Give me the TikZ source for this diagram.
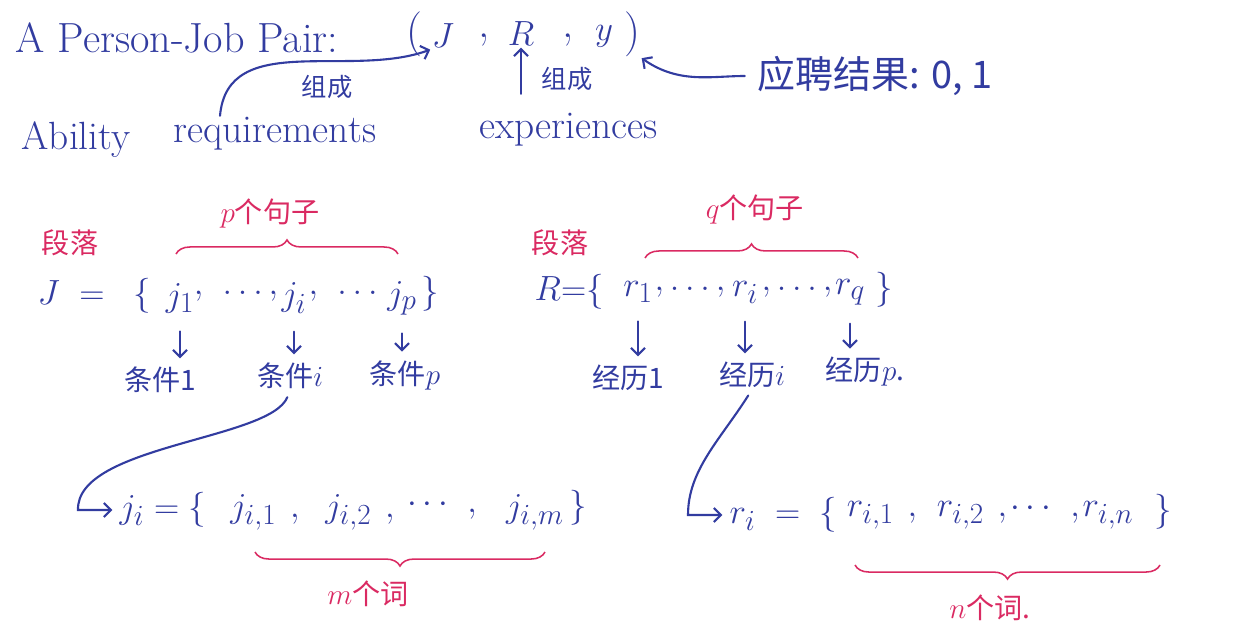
\documentclass[tikz,border=0pt]{standalone}
\usepackage{amsmath}
\usepackage{fontspec}
\usetikzlibrary{arrows.meta, positioning, decorations.pathreplacing}
\newfontfamily\cjk{Noto Sans CJK SC}
\definecolor{ink}{RGB}{50,60,160}
\definecolor{pen}{RGB}{218,42,98}
\tikzstyle{every node}=[text=ink, inner sep=1pt]
\tikzstyle{title}=[font=\fontsize{30}{34}\selectfont]
\tikzstyle{big}=[font=\fontsize{32}{36}\selectfont]
\tikzstyle{mid}=[font=\fontsize{28}{32}\selectfont]
\tikzstyle{zh}=[font=\fontsize{20}{24}\selectfont\cjk]
\tikzstyle{zhbig}=[font=\fontsize{27}{32}\selectfont\cjk]
\tikzstyle{zhsmall}=[font=\fontsize{18}{22}\selectfont\cjk]
\tikzstyle{note}=[zh, text=pen]
\tikzstyle{link}=[draw=ink, line width=1.5pt, line cap=round, -{Straight Barb[length=5pt, width=10pt]}]
\tikzstyle{down}=[link, shorten <=12pt, shorten >=5pt]
\tikzstyle{brc}=[draw=pen, line width=1.1pt, decorate, decoration={brace, amplitude=10pt}]

\begin{document}
\begin{tikzpicture}[x=0.025cm, y=-0.025cm]
    \useasboundingbox (0,0) rectangle (1240,639);

    % the pair
    \node[title, anchor=west] (pair) at (14,38) {A Person-Job Pair:};
    \node[big] (lp) at (414,34) {(};
    \node[big] (J) at (443,36) {$J$};
    \node[big] (c1) at (484,40) {,};
    \node[big] (R) at (521,34) {$R$};
    \node[big] (c2) at (568,40) {,};
    \node[big] (y) at (604,36) {$y$};
    \node[big] (rp) at (632,34) {)};

    \node[mid, anchor=west] (ability) at (20,140) {Ability};
    \node[mid, anchor=west] (req) at (172,134) {requirements};
    \node[mid, anchor=west] (exp) at (478,130) {experiences};
    \node[zhbig, anchor=west] (result) at (756,76) {应聘结果: 0, 1};

    \draw[link] ([xshift=1.2cm]req.north west) to[out=85, in=200] (J.south west);
    \node[zhsmall] (form1) at (327,87) {组成};
    \draw[link, shorten <=0.45cm] (exp.north -| R) -- (R.south);
    \node[zhsmall] (form2) at (567,79) {组成};
    \draw[link, shorten <=8pt] (result.west) to[out=180, in=-35] (rp.south east);

    % paragraph J
    \node[note] (para1) at (70,243) {段落};
    \node[big, anchor=west] (Jeq) at (36,296) {$J\;=\;\;\{$};
    \node[big] (j1) at (180,298) {$j_1$};
    \node[big] (Jd1) at (236,296) {$,\ \dots,$};
    \node[big] (ji) at (294,298) {$j_i$};
    \node[big] (Jd2) at (346,296) {$,\ \dots$};
    \node[big] (jp) at (402,298) {$j_p$};
    \node[big] (Jr) at (430,294) {$\}$};
    \draw[brc] (176,254) -- (398,254);
    \node[note] (psent) at (270,214) {$p$个句子};

    \node[zh] (cond1) at (160,380) {条件1};
    \node[zh] (condi) at (290,376) {条件$i$};
    \node[zh] (condp) at (405,375) {条件$p$};
    \draw[down] (j1.south) -- (j1.south |- cond1.north);
    \draw[down] (ji.south) -- (ji.south |- condi.north);
    \draw[down] (jp.south) -- (jp.south |- condp.north);

    % paragraph R
    \node[note] (para2) at (560,243) {段落};
    \node[big, anchor=west] (Req) at (533,292) {$R{=}\{$};
    \node[big] (r1) at (638,292) {$r_1$};
    \node[big] (Rd1) at (690,292) {$,\dots,$};
    \node[big] (ri) at (745,292) {$r_i$};
    \node[big] (Rd2) at (797,292) {$,\dots,$};
    \node[big] (rq) at (850,292) {$r_q$};
    \node[big] (Rr) at (884,290) {$\}$};
    \draw[brc] (645,258) -- (858,258);
    \node[note] (qsent) at (755,210) {$q$个句子};

    \node[zh] (exp1) at (628,378) {经历1};
    \node[zh] (expi) at (752,375) {经历$i$};
    \node[zh] (expp) at (865,372) {经历$p$.};
    \draw[down] (r1.south) -- (r1.south |- exp1.north);
    \draw[down] (ri.south) -- (ri.south |- expi.north);
    \draw[down] (rq.south) -- (rq.south |- expp.north);

    % sentence j_i
    \node[big, anchor=west] (jieq) at (118,510) {$j_i = \{$};
    \node[big] (jw1) at (265,512) {$j_{i,1}\ ,$};
    \node[big] (jw2) at (360,512) {$j_{i,2}\ ,$};
    \node[big] (jwd) at (442,508) {$\cdots\ ,$};
    \node[big] (jwm) at (535,512) {$j_{i,m}$};
    \node[big] (jwr) at (578,508) {$\}$};
    \draw[brc] (545,552) -- (255,552);
    \node[note] (mword) at (368,594) {$m$个词};
    \draw[link, shorten <=5pt, shorten >=4pt] (condi.south) .. controls (270,440) and (76,445) .. (jieq.west -| 78,0) -- (jieq.west);

    % sentence r_i
    \node[big, anchor=west] (rieq) at (728,515) {$r_i\;=\;\{$};
    \node[big] (rw1) at (882,515) {$r_{i,1}\ ,$};
    \node[big] (rw2) at (972,515) {$r_{i,2}\ ,$};
    \node[big] (rwd) at (1045,512) {$\cdots\ ,$};
    \node[big] (rwn) at (1108,515) {$r_{i,n}$};
    \node[big] (rwr) at (1163,512) {$\}$};
    \draw[brc] (1160,565) -- (855,565);
    \node[note] (nword) at (990,608) {$n$个词.};
    \draw[link, shorten <=5pt, shorten >=4pt] (expi.south) .. controls (720,440) and (688,470) .. (rieq.west -| 688,0) -- (rieq.west);
\end{tikzpicture}
\end{document}
